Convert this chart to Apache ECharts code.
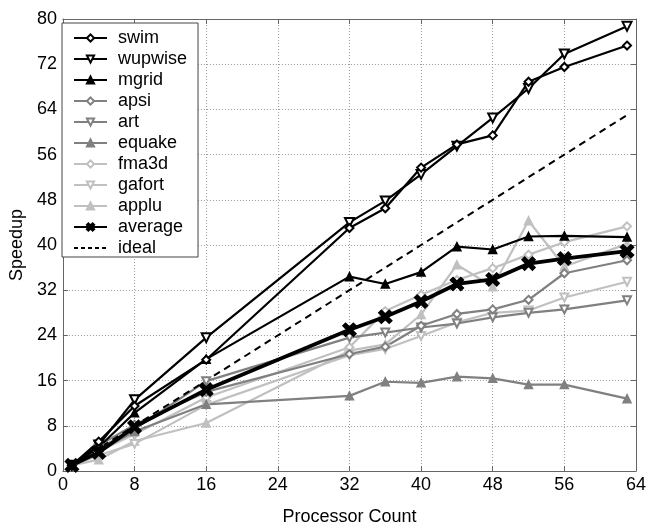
<!DOCTYPE html>
<html><head><meta charset="utf-8">
<script src="https://cdn.jsdelivr.net/npm/echarts@6/dist/echarts.min.js"></script>
<style>html,body{margin:0;padding:0;background:#fff}#c{width:649px;height:531px}</style>
</head><body><div id="c"></div>
<script>
var xs = [1, 4, 8, 16, 32, 36, 40, 44, 48, 52, 56, 63];
var swim    = [1, 5.2, 11.5, 19.7, 43.0, 46.5, 53.7, 57.8, 59.4, 68.9, 71.5, 75.3];
var wupwise = [1, 4.6, 12.6, 23.6, 44.0, 47.8, 52.5, 57.5, 62.5, 67.7, 73.8, 78.7];
var mgrid   = [1, 4.2, 10.3, 19.8, 34.4, 33.1, 35.2, 39.7, 39.2, 41.5, 41.6, 41.4];
var apsi    = [1, 4.5, 8.2, 14.0, 20.7, 22.0, 25.7, 27.8, 28.6, 30.3, 35.0, 37.3];
var art     = [1, 4.0, 7.4, 15.9, 23.6, 24.5, 25.4, 26.1, 27.2, 28.0, 28.6, 30.2];
var equake  = [1, 3.6, 7.0, 11.8, 13.3, 15.8, 15.6, 16.7, 16.4, 15.3, 15.3, 12.8];
var fma3d   = [1, 3.5, 6.5, 13.0, 21.9, 28.3, 31.2, 33.8, 35.9, 38.3, 40.5, 43.3];
var gafort  = [1, 2.8, 4.8, 11.7, 20.5, 21.6, 23.9, 26.3, 28.0, 28.4, 30.7, 33.5];
var applu   = [1, 2.0, 5.3, 8.5, 21.3, 22.4, 27.7, 36.5, 32.6, 44.3, 36.2, 40.2];
var average = [1, 3.3, 7.8, 14.4, 25.0, 27.3, 30.0, 33.1, 33.9, 36.7, 37.6, 38.9];
var ideal   = [1, 4, 8, 16, 32, 36, 40, 44, 48, 52, 56, 63];
var legendNames = ['swim','wupwise','mgrid','apsi','art','equake','fma3d','gafort','applu','average','ideal'];

function pts(v){ return xs.map(function(x,i){ return [x, v[i]]; }); }
var BLACK = '#000000', GRAY = '#808080', LIGHT = '#c0c0c0';
var XPATH = 'path://M0,2L2,0L5,3L8,0L10,2L7,5L10,8L8,10L5,7L2,10L0,8L3,5Z';
function ser(name, data, color, symbol, rot, size, width){
  return {
    name: name, type: 'line', data: pts(data), symbol: symbol, symbolSize: size,
    symbolRotate: rot || 0, showAllSymbol: true,
    lineStyle: {color: color, width: width},
    itemStyle: {color: color, borderColor: color, borderWidth: 1.5},
    emphasis: {disabled: true}, animation: false, z: 2
  };
}
var series = [
  ser('applu', applu, LIGHT, 'triangle', 0, 8, 2.2),
  ser('gafort', gafort, LIGHT, 'emptyTriangle', 180, 8, 2.2),
  ser('fma3d', fma3d, LIGHT, 'emptyDiamond', 0, 8, 2.2),
  ser('equake', equake, GRAY, 'triangle', 0, 8, 2.2),
  ser('art', art, GRAY, 'emptyTriangle', 180, 8, 2.2),
  ser('apsi', apsi, GRAY, 'emptyDiamond', 0, 8, 2.2),
  ser('mgrid', mgrid, BLACK, 'triangle', 0, 8, 2.2),
  ser('wupwise', wupwise, BLACK, 'emptyTriangle', 180, 9, 2.2),
  ser('swim', swim, BLACK, 'emptyDiamond', 0, 8, 2.2),
  ser('average', average, BLACK, XPATH, 0, 13, 3.8),
  {
    name: 'ideal', type: 'line', data: pts(ideal), symbol: 'none',
    lineStyle: {color: BLACK, width: 2, type: [7, 5]},
    itemStyle: {color: BLACK}, emphasis: {disabled: true}, animation: false, z: 2
  }
];
var legendData = legendNames.map(function(n){
  if (n === 'ideal') return {name: n, itemStyle: {opacity: 0}, lineStyle: {type: [4, 3], width: 2}};
  return {name: n};
});
var FONT = 'Liberation Sans';
var gridLine = {show: true, lineStyle: {color: '#9a9a9a', type: [1, 2], width: 1}};
var chart = echarts.init(document.getElementById('c'), null, {renderer: 'canvas'});
chart.setOption({
  backgroundColor: '#ffffff',
  animation: false,
  grid: {left: 59, right: 9, top: 19, bottom: 54, containLabel: false},
  xAxis: [{
    type: 'value', min: 0, max: 64, interval: 8,
    name: 'Processor Count', nameLocation: 'middle', nameGap: 37,
    nameTextStyle: {color: '#000', fontFamily: FONT, fontSize: 18},
    axisLine: {show: true, lineStyle: {color: '#666', width: 1}},
    axisTick: {show: true, inside: true, length: 5, lineStyle: {color: '#666'}},
    axisLabel: {color: '#000', fontFamily: FONT, fontSize: 18, margin: 5},
    splitLine: gridLine
  }, {
    type: 'value', min: 0, max: 64, interval: 8, position: 'top',
    axisLine: {show: true, onZero: false, lineStyle: {color: '#666', width: 1}},
    axisTick: {show: true, inside: true, length: 5, lineStyle: {color: '#666'}},
    axisLabel: {show: false}, splitLine: {show: false}
  }],
  yAxis: [{
    type: 'value', min: 0, max: 80, interval: 8,
    name: 'Speedup', nameLocation: 'middle', nameGap: 27, nameRotate: 90,
    nameTextStyle: {color: '#000', fontFamily: FONT, fontSize: 18},
    axisLine: {show: true, lineStyle: {color: '#666', width: 1}},
    axisTick: {show: true, inside: true, length: 5, lineStyle: {color: '#666'}},
    axisLabel: {color: '#000', fontFamily: FONT, fontSize: 18, margin: 6},
    splitLine: gridLine
  }, {
    type: 'value', min: 0, max: 80, interval: 8, position: 'right',
    axisLine: {show: true, onZero: false, lineStyle: {color: '#666', width: 1}},
    axisTick: {show: true, inside: true, length: 5, lineStyle: {color: '#666'}},
    axisLabel: {show: false}, splitLine: {show: false}
  }],
  legend: {
    data: legendData, orient: 'vertical', left: 62, top: 23,
    padding: [6, 11, 0, 11], itemGap: 3, itemWidth: 33, itemHeight: 9,
    backgroundColor: '#ffffff', borderColor: '#444', borderWidth: 1,
    textStyle: {color: '#000', fontFamily: FONT, fontSize: 18, padding: [0, 0, 0, 6], lineHeight: 17},
    selectedMode: false
  },
  series: series
});
</script></body></html>
